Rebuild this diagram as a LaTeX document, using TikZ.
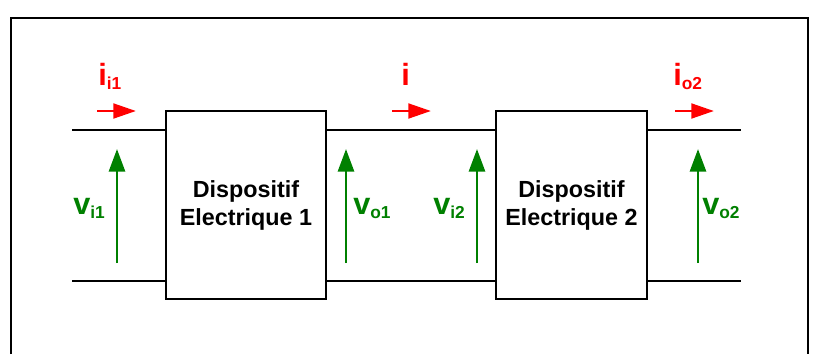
\documentclass[tikz,border=0pt]{standalone}
\usepackage{fontspec}
\setmainfont{Liberation Sans}
\usetikzlibrary{arrows.meta, positioning}
\definecolor{curred}{RGB}{255, 0, 0}
\definecolor{voltgreen}{RGB}{0, 128, 0}
\newcommand{\lowsub}[1]{\raisebox{-3pt}{\fontsize{13}{13}\selectfont #1}}

\begin{document}
\begin{tikzpicture}[x=0.75pt, y=-0.75pt,
  device/.style={draw, line width=1.5pt, fill=white, minimum width=#1, minimum height=141pt, inner sep=0pt, align=center, font=\bfseries\fontsize{17.5}{21}\selectfont},
  wire/.style={line width=1.5pt},
  iarrow/.style={-{Triangle[length=17pt, width=11pt]}, line width=2.2pt, color=curred},
  varrow/.style={-{Triangle[length=17pt, width=12pt]}, line width=2.2pt, color=voltgreen},
  ilabel/.style={anchor=base west, inner sep=0pt, text=curred, font=\bfseries\fontsize{23}{23}\selectfont},
  vlabel/.style={anchor=base west, inner sep=0pt, text=voltgreen, font=\bfseries\fontsize{23}{23}\selectfont}
]
  \useasboundingbox (0,0) rectangle (815,354);
  \draw[line width=1.5pt] (11,354) -- (11,18) -- (808,18) -- (808,354);

  \node[device=120pt] (dev1) at (246,205) {Dispositif\\Electrique 1};
  \node[device=113pt] (dev2) at (571.5,205) {Dispositif\\Electrique 2};

  % wire ends
  \coordinate (intop) at (72,130);
  \coordinate (inbot) at (72,281);
  \coordinate (outtop) at (741,130);
  \coordinate (outbot) at (741,281);

  \draw[wire] (intop) -- (intop -| dev1.west);
  \draw[wire] (inbot) -- (inbot -| dev1.west);
  \draw[wire] (dev1.east |- intop) -- (dev2.west |- intop);
  \draw[wire] (dev1.east |- inbot) -- (dev2.west |- inbot);
  \draw[wire] (dev2.east |- outtop) -- (outtop);
  \draw[wire] (dev2.east |- outbot) -- (outbot);

  % currents
  \coordinate (ii1s) at (97,111);   \coordinate (ii1e) at (136,111);
  \coordinate (is) at (392,111);    \coordinate (ie) at (431,111);
  \coordinate (io2s) at (675,111);  \coordinate (io2e) at (714,111);
  \draw[iarrow] (ii1s) -- (ii1e);
  \draw[iarrow] (is) -- (ie);
  \draw[iarrow] (io2s) -- (io2e);
  \node[ilabel] (lii1) at (98,85) {i\lowsub{i1}};
  \node[ilabel] (li) at (401,85) {i};
  \node[ilabel] (lio2) at (673,85) {i\lowsub{o2}};

  % voltages
  \coordinate (vi1b) at (117,263);  \coordinate (vi1t) at (117,149);
  \coordinate (vo1b) at (346,263);  \coordinate (vo1t) at (346,149);
  \coordinate (vi2b) at (477,263);  \coordinate (vi2t) at (477,149);
  \coordinate (vo2b) at (698,263);  \coordinate (vo2t) at (698,149);
  \draw[varrow] (vi1b) -- (vi1t);
  \draw[varrow] (vo1b) -- (vo1t);
  \draw[varrow] (vi2b) -- (vi2t);
  \draw[varrow] (vo2b) -- (vo2t);
  \node[vlabel] (lvi1) at (73,214) {v\lowsub{i1}};
  \node[vlabel] (lvo1) at (353,214) {v\lowsub{o1}};
  \node[vlabel] (lvi2) at (433,214) {v\lowsub{i2}};
  \node[vlabel] (lvo2) at (702,214) {v\lowsub{o2}};
\end{tikzpicture}
\end{document}
